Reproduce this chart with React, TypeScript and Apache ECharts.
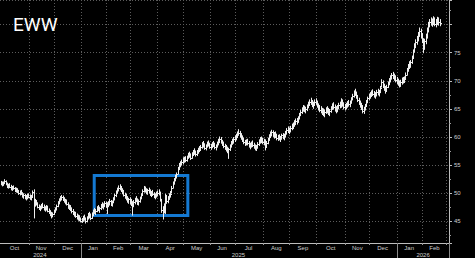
import React, { useEffect, useRef } from 'react';
import * as echarts from 'echarts';

const tickerName = 'EWW';
const monthNames = ['Jan', 'Feb', 'Mar', 'Apr', 'May', 'Jun', 'Jul', 'Aug', 'Sep', 'Oct', 'Nov', 'Dec'];
const firstSession = '2024-10-01';
const lastSession = '2026-03-03';
const marketHolidays = [
  '2024-11-28', '2024-12-25', '2025-01-01', '2025-01-09', '2025-01-20', '2025-02-17',
  '2025-04-18', '2025-05-26', '2025-06-19', '2025-07-04', '2025-09-01', '2025-11-27',
  '2025-12-25', '2026-01-01', '2026-01-19', '2026-02-16',
];

// daily bars: [high, low, close]
const oct24 = [
  [52.1, 51.5, 51.8], [52.0, 51.3, 51.6], [52.0, 51.4, 51.9], [52.4, 51.7, 52.1], [52.2, 51.5, 51.6],
  [51.8, 51.0, 51.2], [51.6, 50.9, 51.4], [51.7, 51.0, 51.1], [51.4, 50.6, 50.8], [51.2, 50.5, 51.0],
  [51.3, 50.7, 50.9], [51.0, 50.3, 50.5], [50.9, 50.2, 50.7], [50.8, 50.1, 50.3], [50.5, 49.8, 50.0],
  [50.4, 49.7, 50.2], [50.5, 49.8, 49.9], [50.1, 49.3, 49.5], [49.9, 49.1, 49.6], [49.8, 49.0, 49.2],
  [49.6, 48.8, 49.3], [49.8, 49.0, 49.6], [49.9, 49.2, 49.4],
];
const nov24 = [
  [49.7, 48.9, 49.1], [49.6, 48.8, 49.4], [50.4, 49.3, 50.2], [50.6, 45.6, 48.0], [48.9, 47.7, 48.6],
  [48.7, 47.9, 48.1], [48.3, 47.4, 47.6], [47.9, 47.1, 47.3], [47.7, 46.9, 47.5], [48.0, 47.2, 47.8],
  [48.2, 47.4, 47.6], [47.9, 47.0, 47.2], [47.6, 46.8, 47.3], [47.8, 47.0, 47.5], [47.7, 46.7, 46.9],
  [47.2, 46.4, 46.6], [46.9, 46.0, 46.3], [46.6, 45.6, 45.9], [46.5, 45.8, 46.3], [47.0, 46.2, 46.8],
];
const dec24 = [
  [47.4, 46.6, 47.2], [47.9, 47.0, 47.7], [48.5, 47.6, 48.3], [49.0, 48.1, 48.8], [49.4, 48.6, 49.1],
  [49.6, 48.8, 49.3], [49.5, 48.7, 48.9], [49.2, 48.4, 48.6], [48.9, 48.1, 48.7], [48.8, 47.9, 48.1],
  [48.3, 47.3, 47.5], [47.9, 47.1, 47.7], [47.8, 46.9, 47.1], [47.4, 46.5, 46.8], [47.1, 46.2, 46.4],
  [46.7, 45.9, 46.2], [46.6, 45.7, 46.0], [46.3, 45.4, 45.6], [46.1, 45.2, 45.8], [46.0, 45.1, 45.3],
  [45.6, 44.9, 45.1],
];
const jan25 = [
  [45.5, 44.8, 45.3], [45.9, 45.0, 45.7], [46.1, 45.2, 45.4], [45.6, 44.7, 45.0], [45.8, 44.9, 45.6],
  [46.4, 45.4, 46.2], [46.6, 45.6, 45.9], [46.3, 45.3, 45.6], [46.5, 45.5, 46.3], [47.0, 46.0, 46.8],
  [47.3, 46.4, 46.6], [47.1, 46.2, 46.9], [47.6, 46.7, 47.4], [47.8, 46.9, 47.2], [47.5, 46.6, 47.3],
  [48.0, 47.1, 47.8], [48.3, 47.4, 47.6], [48.1, 47.2, 47.9], [48.5, 47.6, 48.2], [48.4, 47.5, 47.7],
];
const feb25 = [
  [48.3, 46.4, 47.9], [48.5, 47.6, 48.2], [48.9, 47.9, 48.6], [48.7, 47.8, 48.1], [48.6, 47.7, 48.4],
  [49.2, 48.3, 49.0], [49.8, 48.8, 49.6], [50.4, 49.4, 50.2], [50.9, 50.0, 50.7], [51.3, 50.4, 51.0],
  [51.5, 50.6, 50.9], [51.2, 50.3, 50.5], [50.8, 49.9, 50.2], [50.5, 49.5, 49.7], [50.0, 49.1, 49.4],
  [49.8, 48.8, 49.0], [49.4, 48.4, 48.7], [49.1, 48.2, 48.9], [49.2, 48.1, 48.4],
];
const mar25 = [
  [48.9, 47.8, 48.1], [48.5, 46.1, 47.9], [48.7, 47.6, 48.4], [49.1, 48.1, 48.9], [49.4, 48.5, 48.7],
  [49.0, 48.0, 48.3], [48.8, 47.9, 48.6], [49.3, 48.4, 49.1], [49.9, 49.0, 49.7], [50.6, 49.6, 50.4],
  [51.2, 50.2, 50.9], [51.1, 50.2, 50.6], [50.8, 49.9, 50.4], [50.7, 49.8, 50.5], [50.9, 50.0, 50.3],
  [50.6, 49.6, 49.9], [50.3, 49.4, 50.1], [50.5, 49.6, 49.8], [50.1, 49.2, 49.5], [49.9, 49.0, 49.7],
  [50.2, 49.3, 50.0],
];
const apr25 = [
  [50.4, 49.5, 50.1], [50.6, 49.7, 50.3], [50.2, 48.6, 48.9], [48.9, 46.6, 47.0], [47.6, 45.4, 46.9],
  [48.1, 46.5, 46.8], [49.8, 46.4, 49.5], [49.6, 48.2, 48.6], [49.4, 48.3, 49.1], [49.9, 48.9, 49.6],
  [50.3, 49.3, 49.9], [51.2, 50.1, 51.0], [52.0, 50.9, 51.8], [52.6, 51.6, 52.4], [53.2, 52.2, 52.9],
  [53.6, 52.7, 53.4], [54.6, 53.4, 54.3], [55.3, 54.2, 55.0], [55.6, 54.7, 55.2], [55.9, 55.0, 55.5],
  [56.3, 55.2, 55.9],
];
const may25 = [
  [56.4, 55.5, 56.1], [56.5, 55.6, 55.9], [56.6, 55.7, 56.4], [57.1, 56.2, 56.9], [57.3, 56.4, 56.6],
  [57.0, 56.0, 56.3], [57.2, 56.2, 57.0], [57.6, 56.7, 57.3], [57.9, 56.9, 57.1], [57.5, 56.6, 56.9],
  [57.6, 56.7, 57.4], [58.0, 57.1, 57.8], [58.3, 57.4, 57.6], [58.5, 57.6, 58.3], [59.0, 58.0, 58.7],
  [59.2, 58.2, 58.5], [58.8, 57.8, 58.1], [58.6, 57.7, 58.4], [59.1, 58.2, 58.9], [59.3, 58.4, 58.6],
  [58.9, 58.0, 58.3],
];
const jun25 = [
  [58.7, 57.8, 58.5], [59.0, 58.1, 58.8], [59.2, 58.3, 58.6], [58.9, 57.9, 58.2], [58.6, 57.7, 58.4],
  [59.1, 58.2, 58.9], [59.6, 58.6, 59.4], [60.0, 59.0, 59.7], [59.9, 58.9, 59.2], [59.4, 58.5, 58.8],
  [59.1, 58.1, 58.4], [58.7, 57.8, 58.2], [58.5, 57.5, 57.8], [58.2, 57.2, 57.6], [58.0, 56.2, 57.8],
  [58.6, 57.6, 58.4], [59.2, 58.2, 59.0], [59.6, 58.7, 59.4], [59.9, 58.9, 59.6], [60.2, 59.2, 59.9],
];
const jul25 = [
  [60.5, 59.5, 60.2], [60.9, 59.9, 60.6], [61.3, 60.3, 60.8], [61.0, 60.0, 60.3], [60.6, 59.6, 59.9],
  [60.2, 59.2, 59.5], [59.8, 58.8, 59.1], [59.4, 58.5, 59.0], [59.5, 58.6, 59.2], [59.6, 58.6, 58.9],
  [59.2, 58.2, 58.5], [58.9, 57.9, 58.6], [59.1, 58.2, 58.9], [59.3, 58.3, 58.6], [58.9, 58.0, 58.2],
  [58.6, 57.7, 58.0], [58.5, 57.6, 58.3], [59.0, 58.0, 58.8], [59.5, 58.5, 59.3], [59.9, 58.9, 59.6],
  [60.0, 59.0, 59.4], [59.8, 58.8, 59.1],
];
const aug25 = [
  [59.6, 58.6, 59.3], [59.5, 57.7, 58.3], [59.2, 58.2, 58.9], [59.8, 58.8, 59.6], [60.4, 59.4, 60.1],
  [60.9, 59.9, 60.6], [61.2, 60.2, 60.9], [61.1, 60.1, 60.4], [60.8, 59.8, 60.5], [60.9, 59.9, 60.2],
  [60.5, 59.5, 59.8], [60.3, 59.4, 60.0], [60.4, 59.5, 59.7], [60.1, 59.2, 59.9], [60.5, 59.6, 60.3],
  [60.6, 59.7, 60.0], [60.5, 59.5, 60.2], [61.0, 60.0, 60.7], [61.5, 60.5, 61.2], [61.8, 60.8, 61.1],
  [61.6, 60.6, 61.3],
];
const sep25 = [
  [61.9, 60.9, 61.6], [62.3, 61.3, 61.9], [62.5, 61.5, 62.2], [62.9, 61.9, 62.6], [63.2, 62.2, 62.8],
  [63.3, 62.3, 63.0], [63.6, 62.6, 63.3], [64.2, 63.2, 63.9], [64.7, 63.8, 64.5], [65.2, 64.2, 64.9],
  [65.6, 64.6, 65.2], [65.5, 64.5, 64.8], [65.3, 64.3, 65.0], [65.7, 64.7, 65.4], [66.2, 65.2, 65.9],
  [66.6, 65.6, 66.2], [66.9, 65.8, 66.1], [66.5, 65.4, 65.7], [66.2, 65.1, 65.9], [66.6, 65.6, 66.3],
  [66.8, 65.8, 66.1],
];
const oct25 = [
  [66.4, 65.3, 65.6], [65.9, 64.8, 65.1], [65.6, 64.5, 64.8], [65.4, 64.3, 64.6], [65.1, 64.0, 64.4],
  [65.0, 63.8, 64.2], [64.8, 63.6, 64.5], [65.2, 64.2, 64.9], [65.4, 64.3, 64.7], [65.1, 64.0, 64.3],
  [64.9, 63.8, 64.6], [65.4, 64.4, 65.2], [65.9, 64.9, 65.6], [66.1, 65.0, 65.3], [65.7, 64.6, 64.9],
  [65.4, 64.3, 64.7], [65.6, 64.5, 65.3], [66.0, 65.0, 65.7], [66.2, 65.2, 65.5], [66.8, 65.3, 66.4],
  [66.6, 65.5, 65.9], [66.1, 65.0, 65.4], [65.8, 64.8, 65.5],
];
const nov25 = [
  [66.0, 65.0, 65.8], [66.3, 65.3, 66.0], [66.5, 65.5, 65.9], [66.4, 65.4, 66.2], [67.0, 66.0, 66.8],
  [67.6, 66.6, 67.3], [68.2, 67.1, 67.9], [68.5, 67.4, 67.7], [68.0, 66.9, 67.1], [67.4, 66.3, 66.6],
  [66.9, 65.8, 66.1], [66.4, 65.3, 65.6], [66.0, 64.9, 65.2], [65.6, 64.3, 64.7], [65.3, 64.2, 65.0],
  [65.8, 64.8, 65.6], [66.5, 65.5, 66.3], [67.1, 66.1, 66.9], [67.6, 66.6, 67.3],
];
const dec25 = [
  [67.9, 66.9, 67.6], [68.2, 67.2, 67.9], [68.4, 67.4, 67.7], [68.1, 67.1, 67.4], [67.9, 66.9, 67.6],
  [68.3, 67.3, 68.0], [68.5, 67.5, 67.8], [68.3, 67.3, 68.1], [69.0, 67.9, 68.8], [70.2, 68.9, 69.8],
  [70.0, 68.8, 69.1], [69.4, 68.3, 68.6], [69.0, 67.8, 68.3], [69.2, 68.1, 68.9], [69.8, 68.8, 69.5],
  [70.4, 69.3, 70.1], [70.9, 69.8, 70.6], [71.3, 70.3, 71.0], [71.5, 70.4, 70.8], [71.2, 70.1, 70.5],
  [70.9, 69.8, 70.2], [70.6, 69.5, 69.8],
];
const jan26 = [
  [70.3, 69.2, 69.6], [70.0, 68.9, 69.4], [70.1, 69.0, 69.8], [70.5, 69.4, 70.2], [70.6, 69.6, 69.9],
  [70.7, 69.7, 70.4], [71.4, 70.3, 71.1], [72.2, 71.0, 71.9], [72.9, 71.7, 72.6], [73.4, 72.2, 72.8],
  [73.6, 72.4, 73.3], [74.4, 73.1, 74.1], [75.5, 74.0, 75.3], [76.6, 75.1, 76.2], [77.3, 75.9, 76.9],
  [77.9, 76.5, 77.5], [78.6, 77.1, 78.2], [79.4, 77.9, 78.8], [79.2, 77.6, 77.9], [78.4, 76.8, 77.1],
];
const feb26 = [
  [77.5, 75.0, 75.9], [77.4, 75.6, 77.0], [78.3, 76.6, 77.9], [79.4, 77.6, 79.0], [80.4, 78.7, 80.1],
  [80.9, 79.6, 80.5], [81.2, 79.9, 80.2], [81.0, 79.7, 80.6], [81.4, 80.0, 80.9], [81.2, 79.8, 80.1],
  [80.9, 79.6, 80.5], [81.3, 80.0, 81.0], [81.2, 79.9, 80.4], [80.9, 79.8, 80.34],
];
const monthKeys = [
  '2024-10', '2024-11', '2024-12', '2025-01', '2025-02', '2025-03', '2025-04', '2025-05', '2025-06',
  '2025-07', '2025-08', '2025-09', '2025-10', '2025-11', '2025-12', '2026-01', '2026-02',
];
const monthBars = [oct24, nov24, dec24, jan25, feb25, mar25, apr25, may25, jun25, jul25, aug25, sep25, oct25, nov25, dec25, jan26, feb26];

const highlightFrom = '2025-01-17';
const highlightTo = '2025-05-06';
const highlightHigh = 53.15;
const highlightLow = 46.03;

function buildSessions(): string[] {
  const out: string[] = [];
  const d = new Date(firstSession + 'T00:00:00Z');
  const end = new Date(lastSession + 'T00:00:00Z').getTime();
  while (d.getTime() <= end) {
    const wd = d.getUTCDay();
    const s = d.toISOString().slice(0, 10);
    if (wd !== 0 && wd !== 6 && !marketHolidays.includes(s)) out.push(s);
    d.setUTCDate(d.getUTCDate() + 1);
  }
  return out;
}

export default function App() {
  const ref = useRef<HTMLDivElement>(null);
  useEffect(() => {
    if (!ref.current) return;
    const chart = echarts.init(ref.current, undefined, { renderer: 'svg' });
    const sessions = buildSessions();

    const data: number[][] = [];
    monthKeys.forEach((mk, m) => {
      const start = sessions.findIndex((s) => s.startsWith(mk));
      monthBars[m].forEach((b, k) => data.push([start + k, b[0], b[1], b[2]]));
    });
    const lastClose = feb26[feb26.length - 1][2];

    const monthStart = new Set<number>();
    const monthMid = new Set<number>();
    const yearStart = new Set<number>();
    const yearMid = new Set<number>();
    const spans = (keyLen: number, startSet: Set<number>, midSet: Set<number>, minLen: number) => {
      let i = 0;
      while (i < sessions.length) {
        const key = sessions[i].slice(0, keyLen);
        let j = i;
        while (j + 1 < sessions.length && sessions[j + 1].slice(0, keyLen) === key) j++;
        if (i > 0) startSet.add(i);
        if (j - i + 1 >= minLen) midSet.add(Math.floor((i + j) / 2));
        i = j + 1;
      }
    };
    spans(7, monthStart, monthMid, 8);
    spans(4, yearStart, yearMid, 8);

    const labelColor = '#cfcfcf';
    const gridColor = '#5c5c5c';
    const font = 'Liberation Sans, Arial, sans-serif';

    chart.setOption({
      animation: false,
      backgroundColor: '#000',
      title: {
        text: tickerName,
        left: 13,
        top: 15,
        padding: 0,
        textStyle: { color: '#fff', fontSize: 19, fontWeight: 'normal', fontFamily: 'Roboto, sans-serif' },
      },
      grid: { left: 0, right: 26, top: 0, bottom: 15 },
      xAxis: [
        {
          type: 'category',
          data: sessions,
          boundaryGap: true,
          axisLine: { show: true, lineStyle: { color: '#bdbdbd', width: 1 } },
          axisTick: { show: true, length: 2, interval: (i: number) => monthStart.has(i), lineStyle: { color: '#9a9a9a' } },
          splitLine: {
            show: true,
            interval: (i: number) => monthStart.has(i),
            lineStyle: { color: gridColor, type: [1, 2], width: 1 },
          },
          axisLabel: {
            interval: (i: number) => monthMid.has(i),
            formatter: (v: string) => monthNames[Number(v.slice(5, 7)) - 1],
            color: labelColor,
            fontSize: 6,
            fontFamily: font,
            margin: 2,
          },
        },
        {
          type: 'category',
          data: sessions,
          boundaryGap: true,
          position: 'bottom',
          axisLine: { show: false },
          axisTick: { show: true, length: 15, interval: (i: number) => yearStart.has(i), lineStyle: { color: '#8a8a8a' } },
          splitLine: { show: false },
          axisLabel: {
            interval: (i: number) => yearMid.has(i),
            formatter: (v: string) => v.slice(0, 4),
            color: labelColor,
            fontSize: 6,
            fontFamily: font,
            margin: 9,
          },
        },
      ],
      yAxis: {
        type: 'value',
        position: 'right',
        min: 41.14,
        max: 84.38,
        splitNumber: 9,
        axisLine: { show: true, lineStyle: { color: '#bdbdbd', width: 1 } },
        axisTick: { show: true, length: 3, lineStyle: { color: '#bdbdbd' } },
        minorTick: { show: true, splitNumber: 2, length: 2, lineStyle: { color: '#9a9a9a' } },
        splitLine: { show: true, lineStyle: { color: gridColor, type: [1, 2], width: 1 } },
        axisLabel: {
          showMinLabel: false,
          showMaxLabel: false,
          formatter: (v: number) => (v === 80 ? '' : String(v)),
          color: labelColor,
          fontSize: 6,
          fontFamily: font,
          margin: 5,
        },
      },
      series: [
        {
          type: 'custom',
          xAxisIndex: 0,
          yAxisIndex: 0,
          encode: { x: 0, y: [1, 2, 3] },
          data,
          clip: true,
          renderItem: (params: any, api: any) => {
            const idx = api.value(0);
            const hi = api.coord([idx, api.value(1)]);
            const lo = api.coord([idx, api.value(2)]);
            const cl = api.coord([idx, api.value(3)]);
            const x = Math.round(hi[0]) + 0.5;
            const style = { stroke: '#eeeeee', lineWidth: 1 };
            return {
              type: 'group',
              children: [
                { type: 'line', shape: { x1: x, y1: hi[1] - 0.5, x2: x, y2: lo[1] + 0.5 }, style },
                { type: 'line', shape: { x1: x, y1: Math.round(cl[1]) + 0.5, x2: x + 1.5, y2: Math.round(cl[1]) + 0.5 }, style },
              ],
            };
          },
          markArea: {
            silent: true,
            label: { show: false },
            itemStyle: { color: 'rgba(0,0,0,0)', borderColor: '#1479d2', borderWidth: 3 },
            data: [[{ xAxis: highlightFrom, yAxis: highlightHigh }, { xAxis: highlightTo, yAxis: highlightLow }]],
          },
          markLine: {
            silent: true,
            symbol: ['none', 'none'],
            lineStyle: { opacity: 0 },
            label: {
              show: true,
              position: 'end',
              distance: 3,
              formatter: () => lastClose.toFixed(4),
              color: '#000',
              backgroundColor: '#fff',
              fontSize: 5.5,
              fontFamily: font,
              padding: [1, 1, 0, 1],
              borderRadius: 1,
            },
            data: [{ yAxis: lastClose }],
          },
        },
      ],
    });
    return () => chart.dispose();
  }, []);
  return <div ref={ref} style={{ position: 'fixed', left: 0, top: 0, width: 475, height: 258 }} />;
}
